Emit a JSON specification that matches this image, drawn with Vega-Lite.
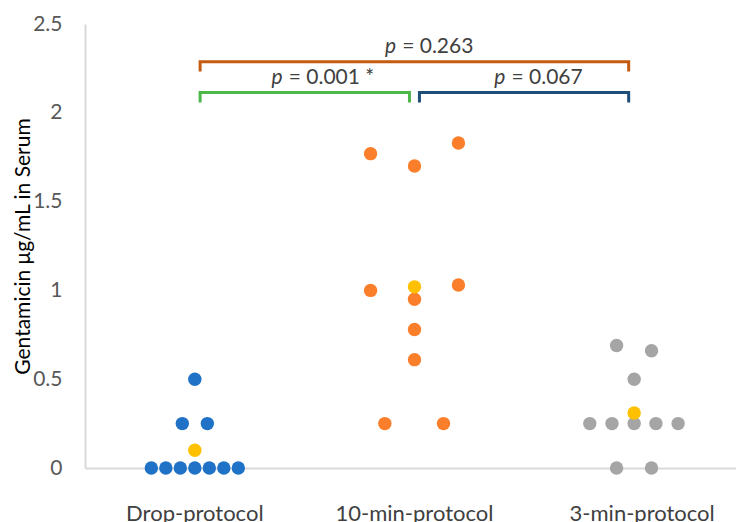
{
  "$schema": "https://vega.github.io/schema/vega-lite/v6.json",
  "width": 659,
  "height": 444,
  "autosize": {"type": "none"},
  "padding": {"left": 85, "top": 24, "right": 10, "bottom": 60},
  "background": "white",
  "config": {"view": {"stroke": null}, "font": "Lato"},
  "datasets": {
    "points": [
      {"protocol": "Drop-protocol", "series": "Drop-protocol", "value": 0, "jitter": -0.198},
      {"protocol": "Drop-protocol", "series": "Drop-protocol", "value": 0, "jitter": -0.132},
      {"protocol": "Drop-protocol", "series": "Drop-protocol", "value": 0, "jitter": -0.066},
      {"protocol": "Drop-protocol", "series": "Drop-protocol", "value": 0, "jitter": 0},
      {"protocol": "Drop-protocol", "series": "Drop-protocol", "value": 0, "jitter": 0.066},
      {"protocol": "Drop-protocol", "series": "Drop-protocol", "value": 0, "jitter": 0.132},
      {"protocol": "Drop-protocol", "series": "Drop-protocol", "value": 0, "jitter": 0.198},
      {"protocol": "Drop-protocol", "series": "Drop-protocol", "value": 0.25, "jitter": -0.057},
      {"protocol": "Drop-protocol", "series": "Drop-protocol", "value": 0.25, "jitter": 0.057},
      {"protocol": "Drop-protocol", "series": "Drop-protocol", "value": 0.5, "jitter": 0},
      {"protocol": "10-min-protocol", "series": "10-min-protocol", "value": 1.77, "jitter": -0.2},
      {"protocol": "10-min-protocol", "series": "10-min-protocol", "value": 1.7, "jitter": 0},
      {"protocol": "10-min-protocol", "series": "10-min-protocol", "value": 1.83, "jitter": 0.2},
      {"protocol": "10-min-protocol", "series": "10-min-protocol", "value": 1.0, "jitter": -0.2},
      {"protocol": "10-min-protocol", "series": "10-min-protocol", "value": 0.95, "jitter": 0},
      {"protocol": "10-min-protocol", "series": "10-min-protocol", "value": 1.03, "jitter": 0.2},
      {"protocol": "10-min-protocol", "series": "10-min-protocol", "value": 0.78, "jitter": 0},
      {"protocol": "10-min-protocol", "series": "10-min-protocol", "value": 0.61, "jitter": 0},
      {"protocol": "10-min-protocol", "series": "10-min-protocol", "value": 0.25, "jitter": -0.135},
      {"protocol": "10-min-protocol", "series": "10-min-protocol", "value": 0.25, "jitter": 0.132},
      {"protocol": "3-min-protocol", "series": "3-min-protocol", "value": 0.69, "jitter": -0.08},
      {"protocol": "3-min-protocol", "series": "3-min-protocol", "value": 0.66, "jitter": 0.079},
      {"protocol": "3-min-protocol", "series": "3-min-protocol", "value": 0.5, "jitter": 0},
      {"protocol": "3-min-protocol", "series": "3-min-protocol", "value": 0.25, "jitter": -0.202},
      {"protocol": "3-min-protocol", "series": "3-min-protocol", "value": 0.25, "jitter": -0.101},
      {"protocol": "3-min-protocol", "series": "3-min-protocol", "value": 0.25, "jitter": 0},
      {"protocol": "3-min-protocol", "series": "3-min-protocol", "value": 0.25, "jitter": 0.099},
      {"protocol": "3-min-protocol", "series": "3-min-protocol", "value": 0.25, "jitter": 0.2},
      {"protocol": "3-min-protocol", "series": "3-min-protocol", "value": 0, "jitter": -0.08},
      {"protocol": "3-min-protocol", "series": "3-min-protocol", "value": 0, "jitter": 0.079},
      {"protocol": "Drop-protocol", "series": "Mean", "value": 0.1, "jitter": 0},
      {"protocol": "10-min-protocol", "series": "Mean", "value": 1.02, "jitter": 0},
      {"protocol": "3-min-protocol", "series": "Mean", "value": 0.31, "jitter": 0}
    ],
    "brackets": [
      {"pair": "all", "step": 1, "bx": 1.024, "by": 2.232},
      {"pair": "all", "step": 2, "bx": 1.024, "by": 2.288},
      {"pair": "all", "step": 3, "bx": 2.975, "by": 2.288},
      {"pair": "all", "step": 4, "bx": 2.975, "by": 2.232},
      {"pair": "drop-10", "step": 1, "bx": 1.024, "by": 2.058},
      {"pair": "drop-10", "step": 2, "bx": 1.024, "by": 2.115},
      {"pair": "drop-10", "step": 3, "bx": 1.977, "by": 2.115},
      {"pair": "drop-10", "step": 4, "bx": 1.977, "by": 2.058},
      {"pair": "10-3", "step": 1, "bx": 2.0225, "by": 2.058},
      {"pair": "10-3", "step": 2, "bx": 2.0225, "by": 2.115},
      {"pair": "10-3", "step": 3, "bx": 2.975, "by": 2.115},
      {"pair": "10-3", "step": 4, "bx": 2.975, "by": 2.058}
    ],
    "plabels": [
      {"rest": "= 0.263", "px": 1.9165, "py": 2.335},
      {"rest": "= 0.001 *", "px": 1.4, "py": 2.162},
      {"rest": "= 0.067", "px": 2.414, "py": 2.162}
    ]
  },
  "layer": [
    {
      "data": {"name": "points"},
      "mark": {"type": "circle", "size": 180, "opacity": 1},
      "encoding": {
        "x": {
          "field": "protocol",
          "type": "nominal",
          "sort": ["Drop-protocol", "10-min-protocol", "3-min-protocol"],
          "scale": {"paddingInner": 0, "paddingOuter": 0},
          "axis": {
            "title": null,
            "labelAngle": 0,
            "ticks": false,
            "labelPadding": 35,
            "labelFontSize": 22,
            "labelColor": "#404040",
            "labelOffset": {"condition": {"test": "datum.value === '3-min-protocol'", "value": 8}, "value": 0},
            "domainColor": "#D9D9D9",
            "domainWidth": 2,
            "grid": false
          }
        },
        "xOffset": {"field": "jitter", "type": "quantitative", "scale": {"domain": [-0.5, 0.5]}},
        "y": {
          "field": "value",
          "type": "quantitative",
          "scale": {"domain": [0, 2.5], "nice": false},
          "axis": {
            "title": "Gentamicin μg/mL in Serum",
            "titleFontSize": 21,
            "titleFontWeight": "normal",
            "titleColor": "#000000",
            "titleX": -62,
            "titleY": 222,
            "titleBaseline": "middle",
            "values": [0, 0.5, 1, 1.5, 2, 2.5],
            "labelExpr": "datum.value + ''",
            "labelFontSize": 21,
            "labelColor": "#595959",
            "labelPadding": 23,
            "ticks": false,
            "grid": false,
            "domainColor": "#D9D9D9",
            "domainWidth": 2
          }
        },
        "color": {
          "field": "series",
          "type": "nominal",
          "scale": {
            "domain": ["Drop-protocol", "10-min-protocol", "3-min-protocol", "Mean"],
            "range": ["#1F72C6", "#FB7F2B", "#A5A5A5", "#FFC000"]
          },
          "legend": null
        }
      }
    },
    {
      "data": {"name": "brackets"},
      "mark": {"type": "line", "strokeWidth": 3, "strokeJoin": "miter", "strokeCap": "butt"},
      "encoding": {
        "x": {"field": "bx", "type": "quantitative", "scale": {"domain": [0.5, 3.5], "nice": false, "zero": false}, "axis": null},
        "y": {"field": "by", "type": "quantitative", "scale": {"domain": [0, 2.5], "nice": false}},
        "order": {"field": "step", "type": "quantitative"},
        "color": {
          "field": "pair",
          "type": "nominal",
          "scale": {"domain": ["all", "drop-10", "10-3"], "range": ["#C55A11", "#4CB848", "#1F4E79"]},
          "legend": null
        }
      }
    },
    {
      "data": {"name": "plabels"},
      "mark": {"type": "text", "text": "p", "fontStyle": "italic", "align": "right", "baseline": "alphabetic", "fontSize": 21, "color": "#404040"},
      "encoding": {
        "x": {"field": "px", "type": "quantitative", "scale": {"domain": [0.5, 3.5], "nice": false, "zero": false}, "axis": null},
        "y": {"field": "py", "type": "quantitative", "scale": {"domain": [0, 2.5], "nice": false}}
      }
    },
    {
      "data": {"name": "plabels"},
      "mark": {"type": "text", "align": "left", "baseline": "alphabetic", "fontSize": 21, "color": "#404040", "dx": 6},
      "encoding": {
        "x": {"field": "px", "type": "quantitative", "scale": {"domain": [0.5, 3.5], "nice": false, "zero": false}, "axis": null},
        "y": {"field": "py", "type": "quantitative", "scale": {"domain": [0, 2.5], "nice": false}},
        "text": {"field": "rest"}
      }
    }
  ],
  "resolve": {"scale": {"x": "independent", "color": "independent"}}
}
